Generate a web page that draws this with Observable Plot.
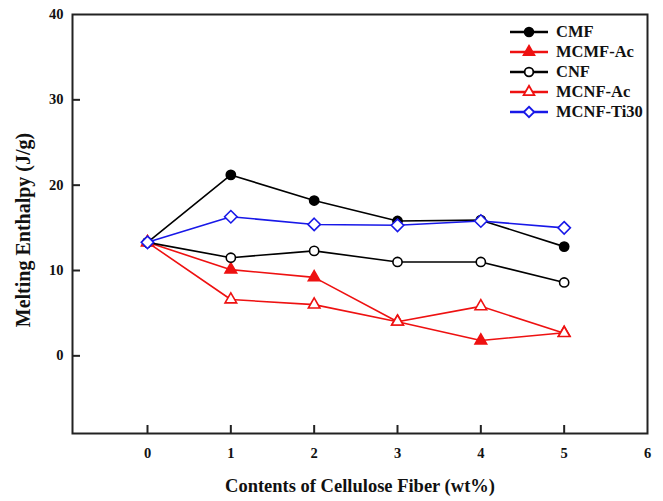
<!DOCTYPE html>
<html><head><meta charset="utf-8">
<script src="https://cdn.jsdelivr.net/npm/d3@7"></script>
<script src="https://cdn.jsdelivr.net/npm/@observablehq/plot@0.6"></script>
<style>
body{margin:0;background:#fff;}
#wrap{position:relative;width:663px;height:501px;}
#legend{position:absolute;left:508px;top:21.7px;font-family:"Liberation Serif",serif;font-weight:bold;font-size:16.5px;color:#111;}
.row{display:flex;align-items:center;height:20px;}
.row svg{margin-right:6px;}
</style></head><body><div id="wrap"></div>
<script>
const xValues = [0, 1, 2, 3, 4, 5];
const seriesNames = ["CMF", "MCMF-Ac", "CNF", "MCNF-Ac", "MCNF-Ti30"];
const cmf = [13.3, 21.2, 18.2, 15.8, 15.9, 12.8];
const mcmfAc = [13.3, 10.1, 9.2, 4.0, 1.8, 2.7];
const cnf = [13.3, 11.5, 12.3, 11.0, 11.0, 8.6];
const mcnfAc = [13.3, 6.6, 6.0, 4.0, 5.8, 2.65];
const mcnfTi30 = [13.3, 16.3, 15.4, 15.3, 15.8, 15.0];
const xTicks = [0, 1, 2, 3, 4, 5, 6];
const yTicks = [0, 10, 20, 30, 40];
const xDomain = [-0.9, 6];
const yDomain = [-9.1, 40];
const xLabel = "Contents of Cellulose Fiber (wt%)";
const yLabel = "Melting Enthalpy (J/g)";

const seriesValues = [cmf, mcmfAc, cnf, mcnfAc, mcnfTi30];
const colors = ["#000000", "#ee1111", "#000000", "#ee1111", "#1818e8"];
const symbols = ["circle", "triangle", "circle", "triangle", "diamond2"];
const filled = [true, true, false, false, false];

const rows = seriesNames.flatMap((s, i) => xValues.map((x, j) => ({series: s, x, y: seriesValues[i][j]})));

const W = 663, H = 501, ML = 72, MR = 16, MT = 14, MB = 68;
const innerW = W - ML - MR, innerH = H - MT - MB;
const tickLen = 8;

const marks = [];
seriesNames.forEach((s, i) => {
  const d = rows.filter(r => r.series === s);
  marks.push(Plot.line(d, {x: "x", y: "y", stroke: colors[i], strokeWidth: 1.6}));
  marks.push(Plot.dot(d, {x: "x", y: "y", symbol: () => symbols[i], r: symbols[i] === "circle" ? 4.6 : (symbols[i] === "triangle" ? 4.3 : 5.6),
    stroke: colors[i], fill: filled[i] ? colors[i] : "white", strokeWidth: 1.6}));
});

const xt = xTicks.filter(t => t < xDomain[1]);
const yt = yTicks.filter(t => t < yDomain[1]);

const chart = Plot.plot({
  width: W, height: H,
  marginLeft: ML, marginRight: MR, marginTop: MT, marginBottom: MB,
  style: {fontFamily: "Liberation Serif", fontWeight: "bold", fontSize: "14px", color: "#111", background: "white"},
  x: {domain: xDomain},
  y: {domain: yDomain},
  symbol: {type: "identity"},
  marks: [
    ...marks,
    Plot.axisX({ticks: xTicks, tickSize: 0, tickPadding: 14, tickFormat: d => String(d), fontSize: 14.5, label: null}),
    Plot.axisY({ticks: yTicks, tickSize: 0, tickPadding: 9, tickFormat: d => String(d), fontSize: 14.5, label: null}),
    Plot.text([xLabel], {frameAnchor: "bottom", textAnchor: "middle", dy: 58, fontSize: 18.5, fontWeight: "bold", fill: "#111"}),
    Plot.text([yLabel], {frameAnchor: "left", textAnchor: "middle", dx: -49, dy: 6, rotate: -90, fontSize: 20, fontWeight: "bold", fill: "#111"}),
    Plot.frame({stroke: "#222", strokeWidth: 2}),
    // inward tick marks
    Plot.tickX(xt, {x: d => d, stroke: "#222", strokeWidth: 2, insetTop: innerH - tickLen}),
    Plot.tickY(yt, {y: d => d, stroke: "#222", strokeWidth: 2, insetRight: innerW - tickLen})
  ]
});
document.getElementById("wrap").appendChild(chart);

// legend
const leg = d3.select("#wrap").append("div").attr("id", "legend");
seriesNames.forEach((s, i) => {
  const row = leg.append("div").attr("class", "row");
  const svg = row.append("svg").attr("width", 42).attr("height", 16);
  svg.append("line").attr("x1", 2).attr("x2", 40).attr("y1", 8).attr("y2", 8).attr("stroke", colors[i]).attr("stroke-width", 2.4);
  const sym = {circle: d3.symbolCircle, triangle: d3.symbolTriangle, diamond2: d3.symbolDiamond2}[symbols[i]];
  const sz = symbols[i] === "circle" ? 60 : (symbols[i] === "triangle" ? 50 : 70);
  svg.append("path").attr("d", d3.symbol(sym, sz)()).attr("transform", "translate(21,8)")
    .attr("fill", filled[i] ? colors[i] : "white").attr("stroke", colors[i]).attr("stroke-width", 1.8);
  row.append("span").text(s);
});
</script>
</body></html>
